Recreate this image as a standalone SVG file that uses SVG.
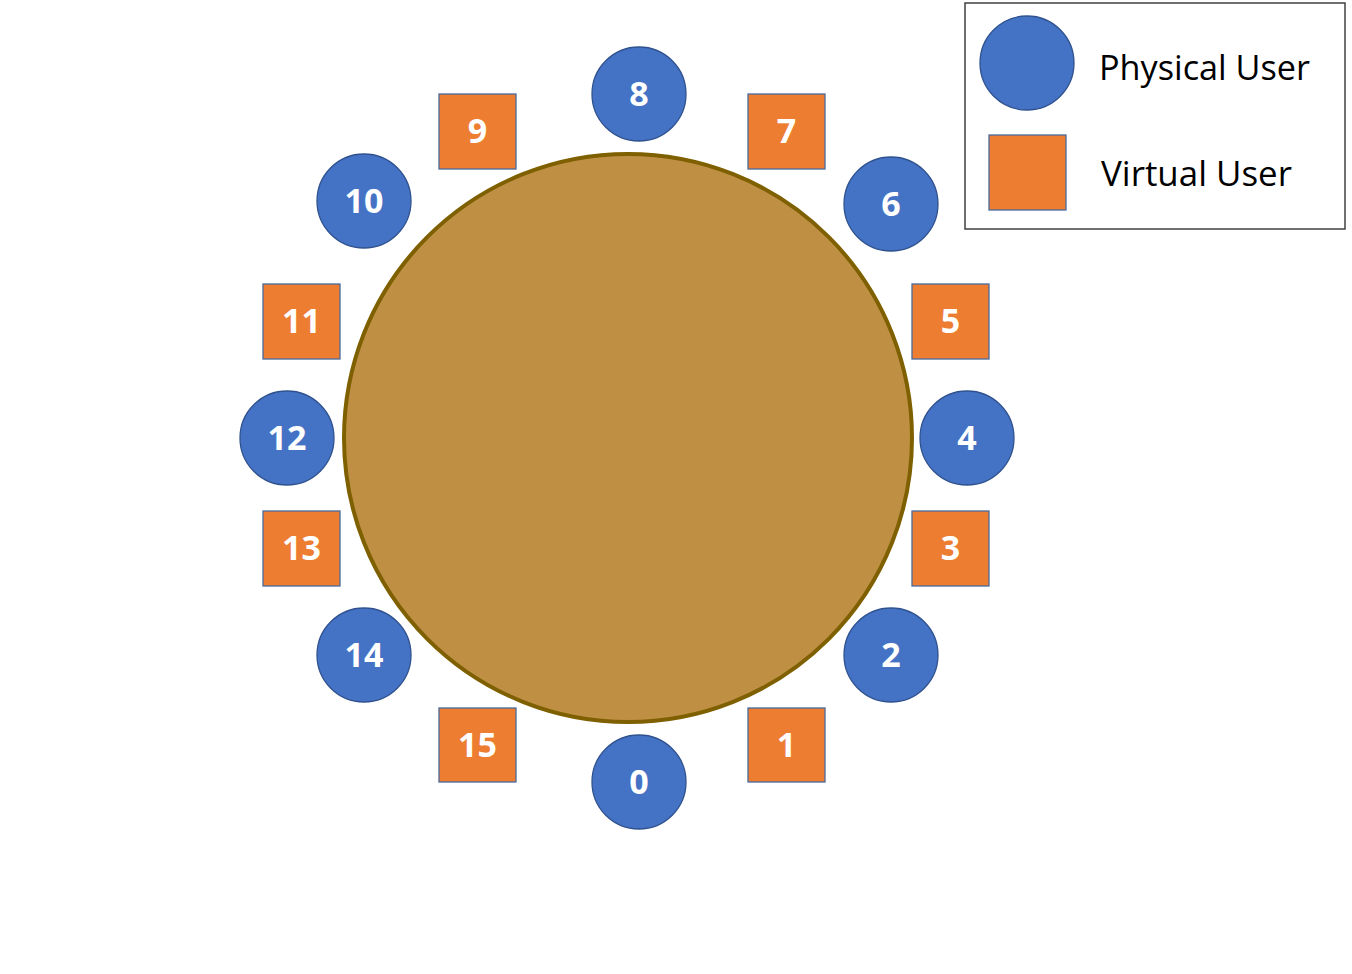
<svg xmlns="http://www.w3.org/2000/svg" width="1352" height="974" viewBox="0 0 1352 974">
<style>
.phys{fill:#4472C4;stroke:#2F528F;stroke-width:1.3}
.virt{fill:#ED7D31;stroke:#4A6A9C;stroke-width:1.3}
.lbl{font-family:"Open Sans","Noto Sans",sans-serif;font-weight:bold;font-size:34px;fill:#FFFFFF;text-anchor:middle}
.leg{font-family:"Open Sans","Noto Sans",sans-serif;font-size:35px;fill:#000000}
</style>
<rect width="1352" height="974" fill="#FFFFFF"/>
<g id="table"><circle cx="628" cy="438" r="284" fill="#BF9044" stroke="#7F6000" stroke-width="4"/></g>
<g id="connectors"></g>
<g id="n8"><circle class="phys" cx="639" cy="94" r="47"/><text class="lbl" x="639" y="106">8</text></g>
<g id="n10"><circle class="phys" cx="364" cy="201" r="47"/><text class="lbl" x="364" y="213">10</text></g>
<g id="n6"><circle class="phys" cx="891" cy="204" r="47"/><text class="lbl" x="891" y="216">6</text></g>
<g id="n12"><circle class="phys" cx="287" cy="438" r="47"/><text class="lbl" x="287" y="450">12</text></g>
<g id="n4"><circle class="phys" cx="967" cy="438" r="47"/><text class="lbl" x="967" y="450">4</text></g>
<g id="n14"><circle class="phys" cx="364" cy="655" r="47"/><text class="lbl" x="364" y="667">14</text></g>
<g id="n2"><circle class="phys" cx="891" cy="655" r="47"/><text class="lbl" x="891" y="667">2</text></g>
<g id="n0"><circle class="phys" cx="639" cy="782" r="47"/><text class="lbl" x="639" y="794">0</text></g>
<g id="n9"><rect class="virt" x="439" y="94" width="77" height="75"/><text class="lbl" x="477.5" y="143">9</text></g>
<g id="n7"><rect class="virt" x="748" y="94" width="77" height="75"/><text class="lbl" x="786.5" y="143">7</text></g>
<g id="n11"><rect class="virt" x="263" y="284" width="77" height="75"/><text class="lbl" x="301.5" y="333">11</text></g>
<g id="n5"><rect class="virt" x="912" y="284" width="77" height="75"/><text class="lbl" x="950.5" y="333">5</text></g>
<g id="n13"><rect class="virt" x="263" y="511" width="77" height="75"/><text class="lbl" x="301.5" y="560">13</text></g>
<g id="n3"><rect class="virt" x="912" y="511" width="77" height="75"/><text class="lbl" x="950.5" y="560">3</text></g>
<g id="n15"><rect class="virt" x="439" y="708" width="77" height="74"/><text class="lbl" x="477.5" y="757">15</text></g>
<g id="n1"><rect class="virt" x="748" y="708" width="77" height="74"/><text class="lbl" x="786.5" y="757">1</text></g>
<g id="legend">
<rect x="965" y="3" width="380" height="226" fill="#FFFFFF" stroke="#404040" stroke-width="1.5"/>
<circle class="phys" cx="1027" cy="63" r="47"/>
<rect class="virt" x="989" y="135" width="77" height="75"/>
<text class="leg" x="1099" y="80" textLength="211" lengthAdjust="spacingAndGlyphs">Physical User</text>
<text class="leg" x="1101" y="186" textLength="191" lengthAdjust="spacingAndGlyphs">Virtual User</text>
</g>
</svg>
